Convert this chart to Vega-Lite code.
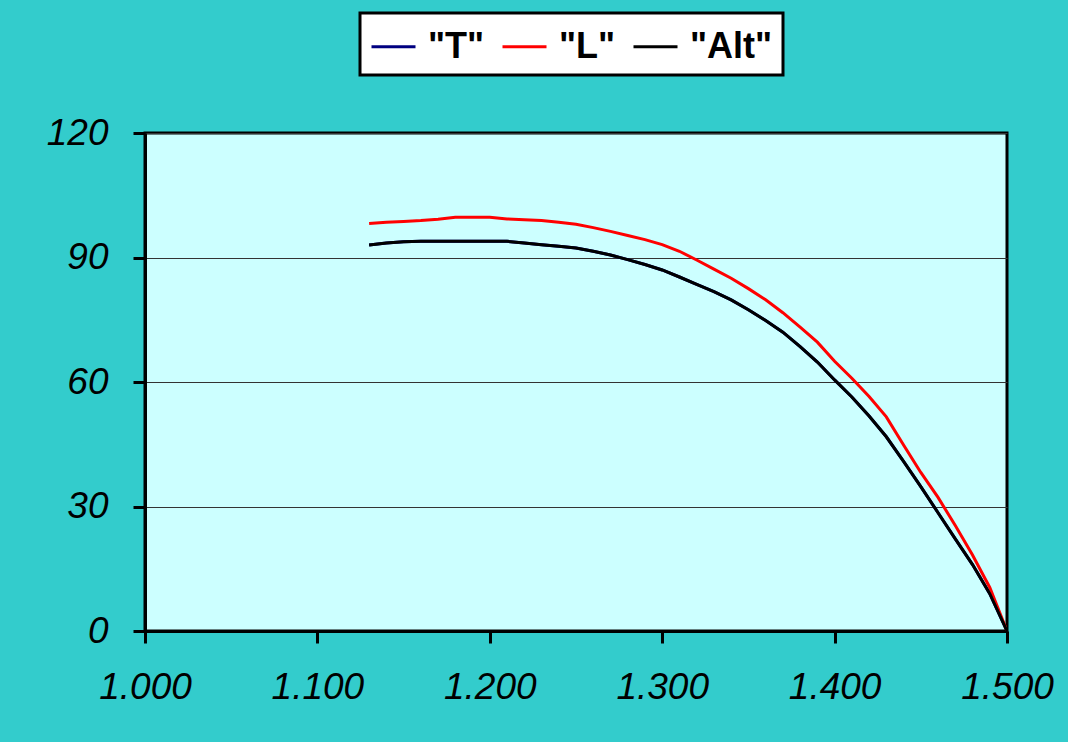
{
  "$schema": "https://vega.github.io/schema/vega-lite/v6.json",
  "autosize": "none",
  "width": 862,
  "height": 498,
  "padding": {"left": 145, "top": 133, "right": 61, "bottom": 111},
  "background": "#33CCCC",
  "config": {
    "view": {"fill": "#CCFFFF", "stroke": "#000000", "strokeWidth": 3},
    "font": "Liberation Sans",
    "legend": {"strokeWidth": 3}
  },
  "data": {
    "values": [
      {"x": 1.13, "T": 93.0, "L": 98.2, "Alt": 93.0},
      {"x": 1.14, "T": 93.5, "L": 98.5, "Alt": 93.5},
      {"x": 1.15, "T": 93.8, "L": 98.7, "Alt": 93.8},
      {"x": 1.16, "T": 93.9, "L": 98.9, "Alt": 93.9},
      {"x": 1.17, "T": 93.9, "L": 99.2, "Alt": 93.9},
      {"x": 1.18, "T": 93.9, "L": 99.7, "Alt": 93.9},
      {"x": 1.19, "T": 93.9, "L": 99.7, "Alt": 93.9},
      {"x": 1.20, "T": 93.9, "L": 99.7, "Alt": 93.9},
      {"x": 1.21, "T": 93.9, "L": 99.3, "Alt": 93.9},
      {"x": 1.22, "T": 93.5, "L": 99.1, "Alt": 93.5},
      {"x": 1.23, "T": 93.1, "L": 98.9, "Alt": 93.1},
      {"x": 1.24, "T": 92.7, "L": 98.5, "Alt": 92.7},
      {"x": 1.25, "T": 92.3, "L": 98.0, "Alt": 92.3},
      {"x": 1.26, "T": 91.5, "L": 97.2, "Alt": 91.5},
      {"x": 1.27, "T": 90.6, "L": 96.3, "Alt": 90.6},
      {"x": 1.28, "T": 89.5, "L": 95.3, "Alt": 89.5},
      {"x": 1.29, "T": 88.3, "L": 94.3, "Alt": 88.3},
      {"x": 1.30, "T": 87.0, "L": 93.1, "Alt": 87.0},
      {"x": 1.31, "T": 85.3, "L": 91.5, "Alt": 85.3},
      {"x": 1.32, "T": 83.5, "L": 89.4, "Alt": 83.5},
      {"x": 1.33, "T": 81.8, "L": 87.2, "Alt": 81.8},
      {"x": 1.34, "T": 79.8, "L": 85.0, "Alt": 79.8},
      {"x": 1.35, "T": 77.4, "L": 82.5, "Alt": 77.4},
      {"x": 1.36, "T": 74.8, "L": 79.8, "Alt": 74.8},
      {"x": 1.37, "T": 72.0, "L": 76.7, "Alt": 72.0},
      {"x": 1.38, "T": 68.5, "L": 73.2, "Alt": 68.5},
      {"x": 1.39, "T": 64.8, "L": 69.6, "Alt": 64.8},
      {"x": 1.40, "T": 60.5, "L": 65.0, "Alt": 60.5},
      {"x": 1.41, "T": 56.4, "L": 60.9, "Alt": 56.4},
      {"x": 1.42, "T": 51.8, "L": 56.5, "Alt": 51.8},
      {"x": 1.43, "T": 46.8, "L": 51.6, "Alt": 46.8},
      {"x": 1.44, "T": 40.9, "L": 44.8, "Alt": 40.9},
      {"x": 1.45, "T": 34.8, "L": 38.2, "Alt": 34.8},
      {"x": 1.46, "T": 28.5, "L": 32.2, "Alt": 28.5},
      {"x": 1.47, "T": 22.2, "L": 25.4, "Alt": 22.2},
      {"x": 1.48, "T": 16.0, "L": 18.3, "Alt": 16.0},
      {"x": 1.49, "T": 9.0, "L": 10.5, "Alt": 9.0},
      {"x": 1.50, "T": 0.0, "L": 0.0, "Alt": 0.0}
    ]
  },
  "transform": [{"fold": ["T", "L", "Alt"], "as": ["series", "value"]}],
  "mark": {"type": "line", "strokeWidth": 3, "clip": true},
  "encoding": {
    "x": {
      "field": "x",
      "type": "quantitative",
      "scale": {"domain": [1.0, 1.5], "nice": false, "zero": false},
      "axis": {
        "title": null,
        "values": [1.0, 1.1, 1.2, 1.3, 1.4, 1.5],
        "format": ".3f",
        "grid": false,
        "domainColor": "#000000",
        "domainWidth": 3,
        "tickColor": "#000000",
        "tickWidth": 3,
        "tickSize": 12,
        "labelFont": "Liberation Sans",
        "labelFontStyle": "italic",
        "labelFontSize": 37,
        "labelColor": "#000000",
        "labelPadding": 26,
        "labelFlush": false,
        "labelOverlap": false
      }
    },
    "y": {
      "field": "value",
      "type": "quantitative",
      "scale": {"domain": [0, 120], "nice": false},
      "axis": {
        "title": null,
        "values": [0, 30, 60, 90, 120],
        "grid": true,
        "gridColor": "#333333",
        "gridWidth": 1,
        "domainColor": "#000000",
        "domainWidth": 3,
        "tickColor": "#000000",
        "tickWidth": 3,
        "tickSize": 12,
        "labelFont": "Liberation Sans",
        "labelFontStyle": "italic",
        "labelFontSize": 37,
        "labelColor": "#000000",
        "labelPadding": 25,
        "labelFlush": false,
        "labelOverlap": false
      }
    },
    "color": {
      "field": "series",
      "type": "nominal",
      "sort": ["T", "L", "Alt"],
      "scale": {"domain": ["T", "L", "Alt"], "range": ["#000080", "#FF0000", "#000000"]},
      "legend": {
        "title": null,
        "orient": "none",
        "legendX": 215,
        "legendY": -120,
        "direction": "horizontal",
        "columns": 3,
        "columnPadding": 11,
        "labelExpr": "'\"' + datum.label + '\"'",
        "labelFont": "Liberation Sans",
        "labelFontWeight": "bold",
        "labelFontSize": 36,
        "labelColor": "#000000",
        "labelOffset": 11,
        "symbolType": "stroke",
        "symbolSize": 1936,
        "symbolStrokeWidth": 3,
        "fillColor": "#FFFFFF",
        "strokeColor": "#000000",
        "padding": 10,
        "cornerRadius": 0
      }
    }
  }
}
